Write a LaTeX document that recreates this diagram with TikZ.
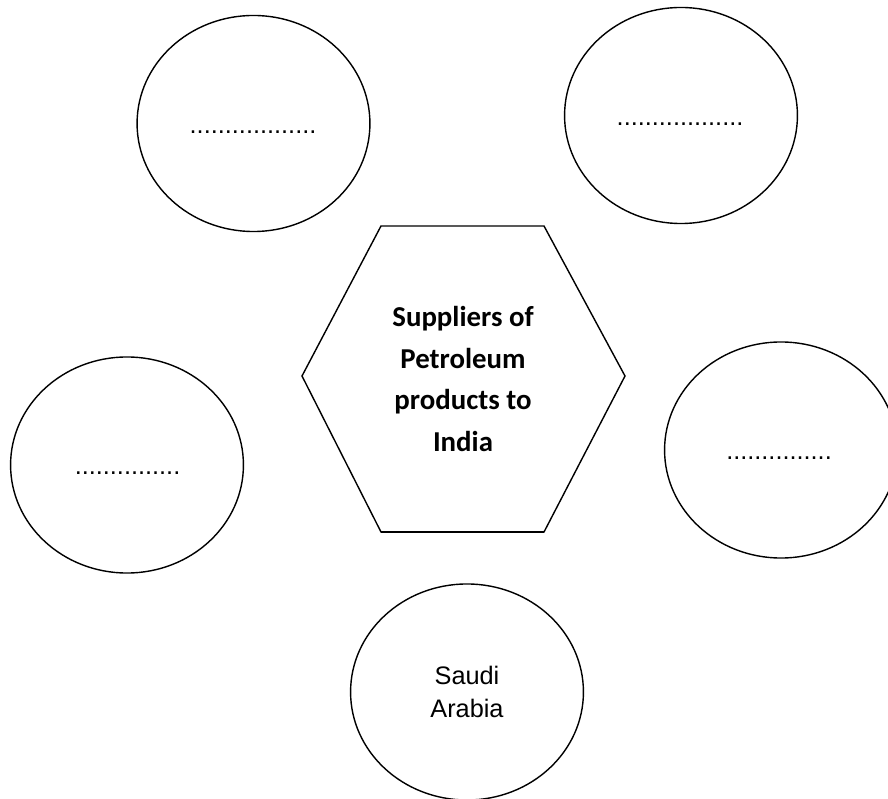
\documentclass[tikz,border=0pt]{standalone}
\usepackage{fontspec}
\setmainfont{Liberation Sans}
\newfontfamily\hubfont{Carlito}
\usetikzlibrary{shapes.geometric}

\begin{document}
\begin{tikzpicture}[x=0.025cm, y=-0.025cm,
    supplier/.style={draw, ellipse, line width=1pt, minimum width=5.82cm,
        minimum height=5.4cm, inner sep=0pt, align=center,
        font=\fontsize{18}{23.5}\selectfont},
    blank/.style={anchor=base, inner sep=0pt, font=\fontsize{18}{22}\selectfont}]
    \useasboundingbox (0,0) rectangle (888,799);
    \clip (0,0) rectangle (888,799);

    % Central hexagon
    \draw[line width=1pt] (381,226) -- (544,226) -- (625,376) -- (544,532)
        -- (381,532) -- (302,376) -- cycle;
    \draw[line width=1.6pt] (381,532) -- (544,532);
    \node[align=center, font=\hubfont\bfseries\fontsize{20.5}{29.7}\selectfont]
        (hub) at (463,379) {Suppliers of\\Petroleum\\products to\\India};

    % Supplier ellipses
    \node[supplier] (topleft) at (253.5,123.5) {};
    \node[supplier] (topright) at (681,115.5) {};
    \node[supplier] (left) at (127,465) {};
    \node[supplier] (right) at (781,450) {};
    \node[supplier] (saudi) at (467,692) {Saudi\\Arabia};

    % Blanks to fill in
    \node[blank] (blanktl) at (253,133.5) {..................};
    \node[blank] (blanktr) at (680,125.5) {..................};
    \node[blank] (blankl) at (127.5,474.5) {...............};
    \node[blank] (blankr) at (779,459.5) {...............};

\end{tikzpicture}
\end{document}
